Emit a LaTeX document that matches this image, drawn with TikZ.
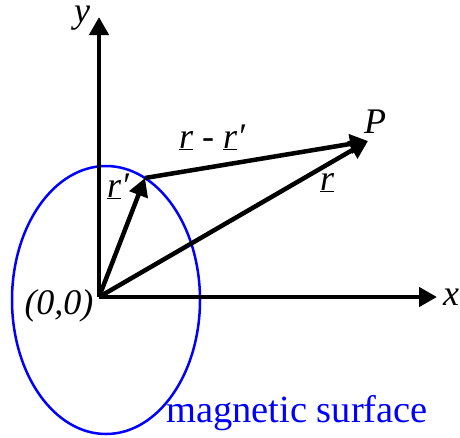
\documentclass[tikz,border=0pt]{standalone}
\usepackage{fontspec}
\setmainfont{Liberation Serif}
\usetikzlibrary{arrows.meta,shapes.geometric}
\definecolor{surfblue}{RGB}{0,0,255}
\tikzset{
  vec/.style={line width=4.5pt,-{Triangle[length=18pt,width=19pt]}},
  lab/.style={font=\fontsize{36}{40}\selectfont\itshape,inner sep=0pt,anchor=base},
  surf/.style={draw=surfblue,line width=2.5pt},
}
\newcommand{\ul}[1]{\underline{#1}}
\newcommand{\pr}{\char"2032}
\begin{document}
\begin{tikzpicture}[x=1pt,y=-1pt]
\useasboundingbox (0,0) rectangle (460,437);
\coordinate (O) at (99,297);
\coordinate (Ytop) at (99,17);
\coordinate (Xend) at (437,297);
\coordinate (Rp) at (145,178);
\coordinate (P) at (368,141);
\node[surf,ellipse,minimum width=188pt,minimum height=268pt,inner sep=0pt] (E) at (106,300) {};
\draw[vec] (O) -- (Ytop);
\draw[vec] (O) -- (Xend);
\draw[vec] (O) -- (Rp);
\draw[vec] (O) -- (P);
\draw[vec] (Rp) -- (P);
\node[lab] (ly) at (82,22) {y};
\node[lab] (lx) at (451,305) {x};
\node[lab] (lP) at (375,133) {P};
\node[lab] (lrr) at (212,148) {\ul{r} - \ul{r}\pr};
\node[lab] (lr) at (327,190) {\ul{r}};
\node[lab] (lrp) at (118,197) {\ul{r}\pr};
\node[lab] (lO) at (59,314) {(0,0)};
\node[font=\fontsize{38.5}{42}\selectfont,text=surfblue,inner sep=0pt,anchor=base] (ls) at (297,422) {magnetic surface};
\end{tikzpicture}
\end{document}
